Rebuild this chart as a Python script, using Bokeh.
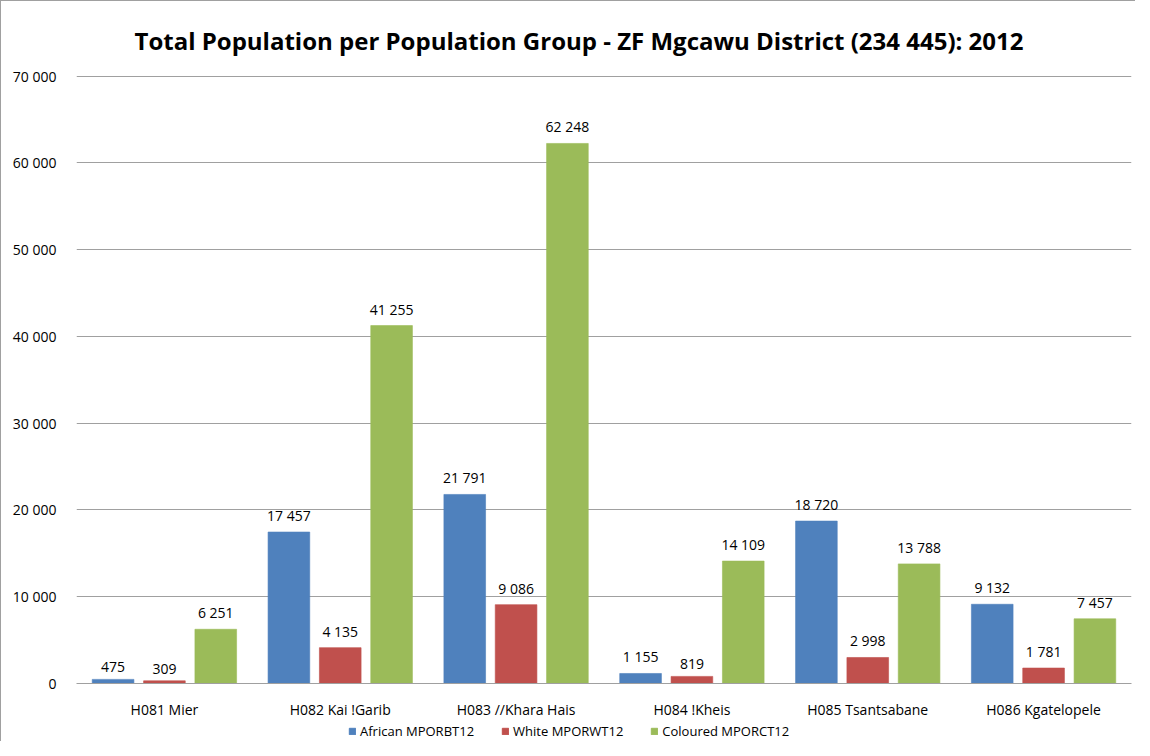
from bokeh.plotting import figure
from bokeh.layouts import column
from bokeh.models import (ColumnDataSource, FactorRange, Legend, LegendItem, FixedTicker, Title,
                          LabelSet, Range1d)
from bokeh.transform import dodge
from bokeh.core.properties import value
from bokeh.embed import file_html
from bokeh.resources import INLINE

categories = ["H081 Mier", "H082 Kai !Garib", "H083 //Khara Hais", "H084 !Kheis",
              "H085 Tsantsabane", "H086 Kgatelopele"]
african = [475, 17457, 21791, 1155, 18720, 9132]
white = [309, 4135, 9086, 819, 2998, 1781]
coloured = [6251, 41255, 62248, 14109, 13788, 7457]
series_names = ["African MPORBT12", "White MPORWT12", "Coloured MPORCT12"]
colors = ["#4F81BD", "#C0504D", "#9BBB59"]
y_ticks = [0, 10000, 20000, 30000, 40000, 50000, 60000, 70000]

def fmt(v):
    return f"{v:,}".replace(",", " ")

FONT = "Open Sans"

p = figure(x_range=FactorRange(*categories), y_range=Range1d(0, 70080),
           width=1134, height=720, output_backend="svg", toolbar_location=None,
           min_border_left=75, min_border_right=4, min_border_top=74, min_border_bottom=36)
p.outline_line_color = None
p.title = Title(text="Total Population per Population Group - ZF Mgcawu District (234 445): 2012",
                align="left", offset=58, text_font=FONT, text_font_size="24px", text_font_style="bold",
                text_color="#000000", standoff=37)

series = [african, white, coloured]
offsets = [-0.292, 0.0, 0.292]
for vals, name, col, off in zip(series, series_names, colors, offsets):
    src = ColumnDataSource(dict(cat=categories, val=vals, lbl=[fmt(v) for v in vals]))
    p.vbar(x=dodge("cat", off, range=p.x_range), top="val", width=0.237, source=src,
           fill_color=col, line_color=col, line_alpha=0.6)
    lab = LabelSet(x=dodge("cat", off, range=p.x_range), y="val", text="lbl", source=src,
                   text_align="center", text_baseline="bottom", y_offset=7,
                   text_font=value(FONT), text_font_size="14px", text_color="#000000")
    p.add_layout(lab)

p.yaxis.ticker = FixedTicker(ticks=y_ticks)
p.yaxis.major_label_overrides = {t: fmt(t) for t in y_ticks}
p.yaxis.axis_line_color = None
p.yaxis.major_tick_line_color = None
p.yaxis.minor_tick_line_color = None
p.yaxis.major_label_standoff = 14
p.yaxis.major_label_text_font = FONT
p.yaxis.major_label_text_font_size = "14px"
p.yaxis.major_label_text_color = "#000000"

p.xaxis.axis_line_color = "#a0a0a0"
p.xaxis.major_tick_line_color = None
p.xaxis.minor_tick_line_color = None
p.xaxis.major_label_standoff = 10
p.xaxis.major_label_text_font = FONT
p.xaxis.major_label_text_font_size = "14px"
p.xaxis.major_label_text_color = "#000000"

p.xgrid.grid_line_color = None
p.ygrid.grid_line_color = "#a0a0a0"
p.ygrid.grid_line_width = 1

# legend strip below the chart
lg = figure(width=1134, height=20, output_backend="svg", toolbar_location=None,
            x_range=Range1d(0, 1), y_range=Range1d(0, 1),
            min_border=0, x_axis_location=None, y_axis_location=None)
lg.outline_line_color = None
lg.xgrid.grid_line_color = None
lg.ygrid.grid_line_color = None
items = []
for name, col in zip(series_names, colors):
    r = lg.rect(x=[-10], y=[-10], width=1, height=1, fill_color=col, line_color=col)
    items.append(LegendItem(label=name, renderers=[r]))
legend = Legend(items=items, orientation="horizontal", location=(272, 1),
                label_text_font=FONT, label_text_font_size="13px", label_text_color="#000000",
                glyph_width=8, glyph_height=8, spacing=27, border_line_color=None,
                background_fill_alpha=0, margin=0, padding=0, label_standoff=4,
                label_height=16)
lg.add_layout(legend, "center")

layout = column(p, lg, spacing=0)
layout.styles = {"border-left": "1px solid #a0a0a0", "border-top": "1px solid #a0a0a0"}

open("out.html", "w").write(file_html(layout, INLINE))
